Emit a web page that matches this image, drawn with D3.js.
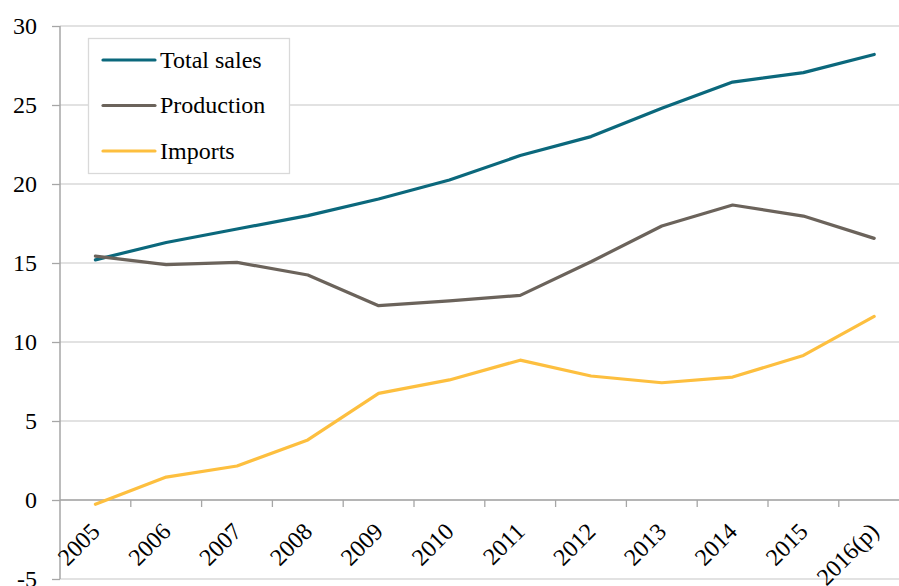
<!DOCTYPE html>
<html>
<head>
<meta charset="utf-8">
<script src="https://cdn.jsdelivr.net/npm/d3@7"></script>
<style>
  html, body { margin: 0; padding: 0; background: #fff; overflow: hidden; }
  svg { display: block; }
  text { font-family: "Liberation Serif", "DejaVu Serif", serif; fill: #000; }
</style>
</head>
<body>
<svg id="chart" width="899" height="586"></svg>
<script>
const categories = ["2005","2006","2007","2008","2009","2010","2011","2012","2013","2014","2015","2016(p)"];
const totalSales = [15.2, 16.3, 17.15, 18.0, 19.05, 20.25, 21.8, 23.0, 24.8, 26.45, 27.05, 28.2];
const production = [15.44, 14.9, 15.04, 14.24, 12.3, 12.6, 12.95, 15.08, 17.34, 18.67, 17.97, 16.56];
const imports = [-0.27, 1.45, 2.15, 3.8, 6.75, 7.6, 8.85, 7.85, 7.42, 7.78, 9.15, 11.62];
const yTicks = [-5, 0, 5, 10, 15, 20, 25, 30];
const seriesNames = ["Total sales", "Production", "Imports"];
const seriesColors = ["#0b687c", "#6b635b", "#fdbf3f"];

const series = [
  { name: seriesNames[0], values: totalSales, color: seriesColors[0] },
  { name: seriesNames[1], values: production, color: seriesColors[1] },
  { name: seriesNames[2], values: imports, color: seriesColors[2] }
];

const svg = d3.select("#chart");
const mLeft = 60, mRight = 909.6, mTop = 26, mBottom = 579;
const FS = 24;

const x = d3.scaleBand().domain(categories).range([mLeft, mRight]).padding(0);
const y = d3.scaleLinear().domain([-5, 30]).range([mBottom, mTop]);

// gridlines
svg.append("g").selectAll("line").data(yTicks).join("line")
  .attr("x1", mLeft).attr("x2", 899)
  .attr("y1", d => y(d)).attr("y2", d => y(d))
  .attr("stroke", "#d9d9d9").attr("stroke-width", 1.3);

// y axis
const yAxis = svg.append("g").attr("transform", `translate(${mLeft},0)`)
  .call(d3.axisLeft(y).tickValues(yTicks).tickSize(8).tickPadding(15).tickFormat(d => String(d)));
yAxis.attr("font-family", null).attr("font-size", null);
yAxis.select(".domain").attr("stroke", "#a6a6a6").attr("stroke-width", 1.5)
  .attr("d", `M0,${mTop}V${mBottom}`);
yAxis.selectAll(".tick line").attr("stroke", "#a6a6a6").attr("stroke-width", 1.3);
yAxis.selectAll(".tick text").attr("font-size", FS).attr("fill", "#000");

// x axis at zero
const xAxisG = svg.append("g").attr("transform", `translate(0,${y(0)})`);
xAxisG.append("line").attr("x1", mLeft).attr("x2", 899).attr("y1", 0).attr("y2", 0)
  .attr("stroke", "#a6a6a6").attr("stroke-width", 1.5);
const bounds = categories.map(c => x(c)).concat([x(categories[categories.length-1]) + x.bandwidth()]);
xAxisG.selectAll("line.tk").data(bounds.slice(1)).join("line").attr("class", "tk")
  .attr("x1", d => d).attr("x2", d => d).attr("y1", 0).attr("y2", 7)
  .attr("stroke", "#a6a6a6").attr("stroke-width", 1.3);
xAxisG.selectAll("text").data(categories).join("text")
  .attr("transform", d => `translate(${x(d) + x.bandwidth()/2},${27}) rotate(-45)`)
  .attr("text-anchor", "end")
  .attr("dy", "0.35em")
  .attr("font-size", FS)
  .text(d => d);

// lines
const line = d3.line()
  .x((d, i) => x(categories[i]) + x.bandwidth()/2)
  .y(d => y(d));
svg.append("g").selectAll("path").data(series).join("path")
  .attr("d", d => line(d.values))
  .attr("fill", "none")
  .attr("stroke", d => d.color)
  .attr("stroke-width", 3.2)
  .attr("stroke-linejoin", "round")
  .attr("stroke-linecap", "round");

// legend
const lg = svg.append("g");
lg.append("rect").attr("x", 88.5).attr("y", 38.5).attr("width", 201).attr("height", 135)
  .attr("fill", "#fff").attr("stroke", "#d9d9d9").attr("stroke-width", 1.3);
const items = lg.selectAll("g.item").data(series).join("g").attr("class", "item")
  .attr("transform", (d, i) => `translate(0,${60 + i * 45.5})`);
items.append("line").attr("x1", 103).attr("x2", 155).attr("y1", 0).attr("y2", 0)
  .attr("stroke", d => d.color).attr("stroke-width", 3.2).attr("stroke-linecap", "round");
items.append("text").attr("x", 160).attr("y", 0).attr("dy", "0.33em")
  .attr("font-size", FS).text(d => d.name);
</script>
</body>
</html>
